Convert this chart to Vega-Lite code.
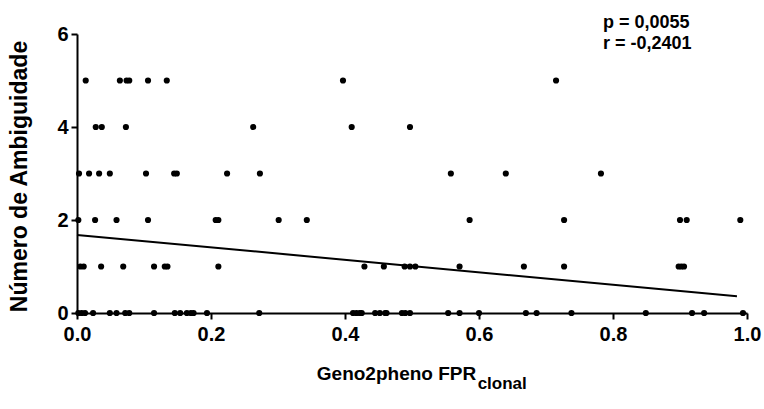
{
  "$schema": "https://vega.github.io/schema/vega-lite/v6.json",
  "width": 670,
  "height": 279,
  "autosize": "none",
  "padding": {"left": 77, "top": 34, "right": 17, "bottom": 96},
  "background": "white",
  "config": {
    "view": {"stroke": null},
    "font": "Liberation Sans",
    "axis": {
      "grid": false,
      "domainColor": "black",
      "domainWidth": 2,
      "tickColor": "black",
      "tickWidth": 2,
      "tickSize": 6,
      "labelColor": "black",
      "labelFont": "Liberation Sans",
      "labelFontWeight": "bold",
      "labelFontSize": 20,
      "titleColor": "black",
      "titleFont": "Liberation Sans",
      "titleFontWeight": "bold"
    }
  },
  "datasets": {
    "pts": [
      {"fpr": 0.013, "amb": 5}, {"fpr": 0.064, "amb": 5}, {"fpr": 0.074, "amb": 5}, {"fpr": 0.078, "amb": 5},
      {"fpr": 0.106, "amb": 5}, {"fpr": 0.134, "amb": 5}, {"fpr": 0.397, "amb": 5}, {"fpr": 0.715, "amb": 5},
      {"fpr": 0.028, "amb": 4}, {"fpr": 0.037, "amb": 4}, {"fpr": 0.073, "amb": 4}, {"fpr": 0.263, "amb": 4},
      {"fpr": 0.410, "amb": 4}, {"fpr": 0.497, "amb": 4},
      {"fpr": 0.003, "amb": 3}, {"fpr": 0.018, "amb": 3}, {"fpr": 0.033, "amb": 3}, {"fpr": 0.049, "amb": 3},
      {"fpr": 0.103, "amb": 3}, {"fpr": 0.145, "amb": 3}, {"fpr": 0.149, "amb": 3}, {"fpr": 0.224, "amb": 3},
      {"fpr": 0.273, "amb": 3}, {"fpr": 0.558, "amb": 3}, {"fpr": 0.640, "amb": 3}, {"fpr": 0.782, "amb": 3},
      {"fpr": 0.002, "amb": 2}, {"fpr": 0.027, "amb": 2}, {"fpr": 0.059, "amb": 2}, {"fpr": 0.106, "amb": 2},
      {"fpr": 0.207, "amb": 2}, {"fpr": 0.211, "amb": 2}, {"fpr": 0.301, "amb": 2}, {"fpr": 0.343, "amb": 2},
      {"fpr": 0.586, "amb": 2}, {"fpr": 0.727, "amb": 2}, {"fpr": 0.900, "amb": 2}, {"fpr": 0.910, "amb": 2},
      {"fpr": 0.990, "amb": 2},
      {"fpr": 0.005, "amb": 1}, {"fpr": 0.010, "amb": 1}, {"fpr": 0.036, "amb": 1}, {"fpr": 0.069, "amb": 1},
      {"fpr": 0.115, "amb": 1}, {"fpr": 0.131, "amb": 1}, {"fpr": 0.135, "amb": 1}, {"fpr": 0.211, "amb": 1},
      {"fpr": 0.429, "amb": 1}, {"fpr": 0.458, "amb": 1}, {"fpr": 0.489, "amb": 1}, {"fpr": 0.497, "amb": 1},
      {"fpr": 0.505, "amb": 1}, {"fpr": 0.571, "amb": 1}, {"fpr": 0.667, "amb": 1}, {"fpr": 0.727, "amb": 1},
      {"fpr": 0.898, "amb": 1}, {"fpr": 0.902, "amb": 1}, {"fpr": 0.906, "amb": 1},
      {"fpr": 0.002, "amb": 0}, {"fpr": 0.007, "amb": 0}, {"fpr": 0.012, "amb": 0}, {"fpr": 0.024, "amb": 0},
      {"fpr": 0.049, "amb": 0}, {"fpr": 0.059, "amb": 0}, {"fpr": 0.072, "amb": 0}, {"fpr": 0.078, "amb": 0},
      {"fpr": 0.115, "amb": 0}, {"fpr": 0.146, "amb": 0}, {"fpr": 0.154, "amb": 0}, {"fpr": 0.164, "amb": 0},
      {"fpr": 0.170, "amb": 0}, {"fpr": 0.174, "amb": 0}, {"fpr": 0.194, "amb": 0}, {"fpr": 0.272, "amb": 0},
      {"fpr": 0.412, "amb": 0}, {"fpr": 0.417, "amb": 0}, {"fpr": 0.422, "amb": 0}, {"fpr": 0.425, "amb": 0},
      {"fpr": 0.445, "amb": 0}, {"fpr": 0.452, "amb": 0}, {"fpr": 0.460, "amb": 0}, {"fpr": 0.462, "amb": 0},
      {"fpr": 0.485, "amb": 0}, {"fpr": 0.490, "amb": 0}, {"fpr": 0.497, "amb": 0}, {"fpr": 0.554, "amb": 0},
      {"fpr": 0.571, "amb": 0}, {"fpr": 0.600, "amb": 0}, {"fpr": 0.670, "amb": 0}, {"fpr": 0.686, "amb": 0},
      {"fpr": 0.738, "amb": 0}, {"fpr": 0.849, "amb": 0}, {"fpr": 0.918, "amb": 0}, {"fpr": 0.936, "amb": 0},
      {"fpr": 0.994, "amb": 0}
    ],
    "fit": [
      {"fpr": 0.0, "amb": 1.68},
      {"fpr": 0.985, "amb": 0.36}
    ],
    "one": [{}]
  },
  "layer": [
    {
      "data": {"name": "fit"},
      "mark": {"type": "line", "color": "black", "strokeWidth": 2},
      "encoding": {
        "x": {
          "field": "fpr", "type": "quantitative",
          "scale": {"domain": [0, 1], "nice": false, "zero": false},
          "axis": {
            "values": [0, 0.2, 0.4, 0.6, 0.8, 1.0],
            "format": ".1f",
            "labelFlush": false,
            "labelPadding": 5,
            "title": "Geno2pheno FPR",
            "titleFontSize": 19,
            "titleAlign": "center",
            "titleAnchor": "start",
            "titleX": 319,
            "titleY": 66,
            "titleBaseline": "alphabetic"
          }
        },
        "y": {
          "field": "amb", "type": "quantitative",
          "scale": {"domain": [0, 6], "nice": false},
          "axis": {
            "values": [0, 2, 4, 6],
            "labelPadding": 3,
            "title": "Número de Ambiguidade",
            "titleFontSize": 23,
            "titleAngle": -90,
            "titleAlign": "center",
            "titleBaseline": "middle",
            "titleAnchor": "start",
            "titleX": -58,
            "titleY": 142
          }
        }
      }
    },
    {
      "data": {"name": "pts"},
      "mark": {"type": "circle", "color": "black", "opacity": 1, "size": 38},
      "encoding": {
        "x": {"field": "fpr", "type": "quantitative"},
        "y": {"field": "amb", "type": "quantitative"}
      }
    },
    {
      "data": {"name": "one"},
      "mark": {"type": "text", "text": ["p = 0,0055", "r = -0,2401"], "align": "left", "baseline": "alphabetic", "font": "Liberation Sans", "fontWeight": "bold", "fontSize": 18, "lineHeight": 21, "color": "black"},
      "encoding": {
        "x": {"datum": 0.785, "type": "quantitative"},
        "y": {"datum": 6.13, "type": "quantitative"}
      }
    },
    {
      "data": {"name": "one"},
      "mark": {"type": "text", "text": "clonal", "align": "left", "baseline": "alphabetic", "font": "Liberation Sans", "fontWeight": "bold", "fontSize": 17, "color": "black"},
      "encoding": {
        "x": {"datum": 0.598, "type": "quantitative"},
        "y": {"datum": -1.64, "type": "quantitative"}
      }
    }
  ]
}
